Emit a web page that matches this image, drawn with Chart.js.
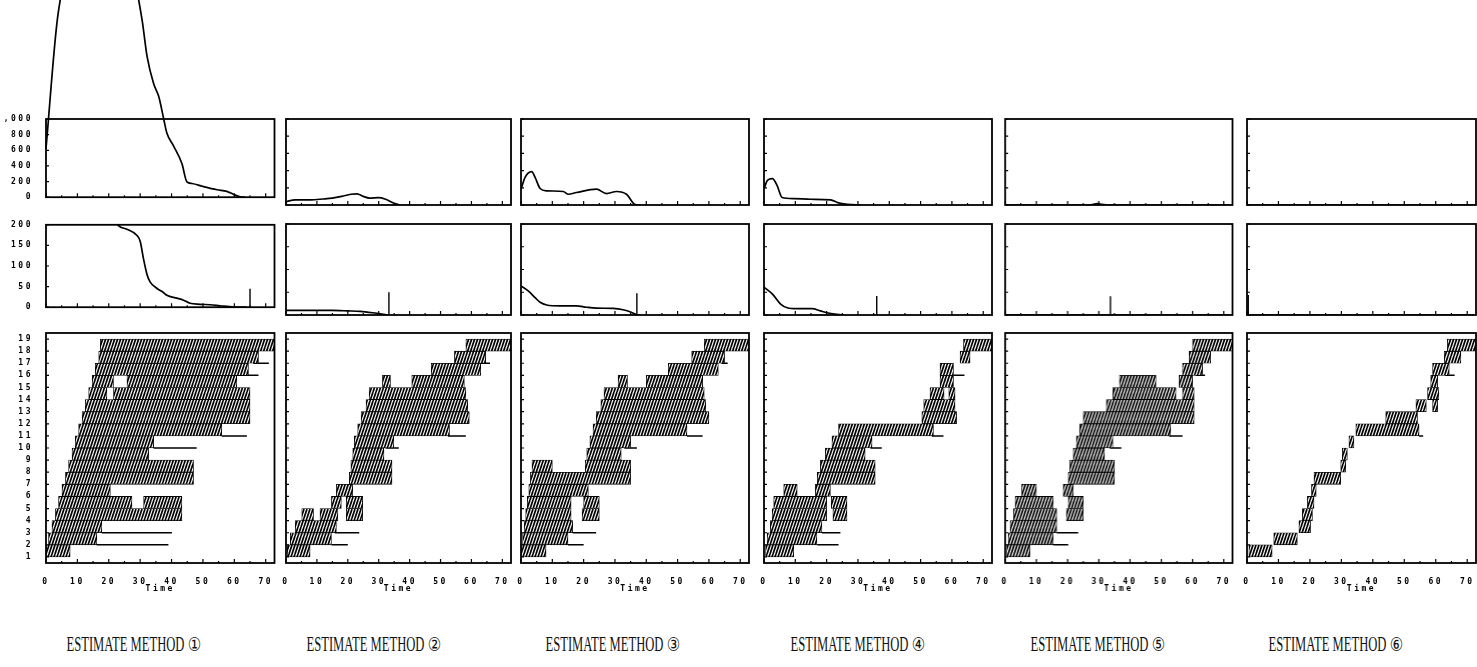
<!DOCTYPE html>
<html>
<head>
<meta charset="utf-8">
<script src="https://cdn.jsdelivr.net/npm/chart.js@4/dist/chart.umd.min.js"></script>
<style>
  html, body { margin: 0; padding: 0; background: #fff; }
  body { width: 1477px; height: 667px; position: relative; overflow: hidden; }
  .box { position: absolute; }
  .method { position: absolute; top: 632px; width: 300px; margin-left: -150px; text-align: center;
            font-family: 'Liberation Serif', 'DejaVu Serif', serif; font-size: 21px; color: #111;
            white-space: nowrap; transform: scaleX(.6); }
  .method .mk { display: inline-block; transform: scaleX(1.3); margin-left: 8px;
                font-family: 'DejaVu Sans', 'Noto Sans CJK JP', sans-serif; font-size: 19px; }
</style>
</head>
<body>
<script>
// ---- data -------------------------------------------------------------
const methods = ['ESTIMATE METHOD ①', 'ESTIMATE METHOD ②', 'ESTIMATE METHOD ③',
                 'ESTIMATE METHOD ④', 'ESTIMATE METHOD ⑤', 'ESTIMATE METHOD ⑥'];

// upper panels (0 - 1000)
const top1X = [0, 3.7, 8, 15, 22, 28, 30.6, 32.2, 34.3, 35.9, 37.5, 38.5, 40.6, 43.3, 44.9, 46.5, 50.2, 54.5, 57.6, 59.8, 61.9, 63.4];
const top1Y = [620, 2300, 3000, 3300, 3200, 2800, 2270, 1800, 1450, 1290, 1000, 820, 660, 430, 195, 175, 135, 95, 75, 35, 5, 0];
const top2X = [0, 3, 8, 12, 15, 18, 21, 23, 25, 27, 30, 32, 35, 37];
const top2Y = [40, 60, 60, 70, 80, 100, 125, 130, 100, 80, 85, 70, 20, 0];
const top3X = [0, 1.3, 3.4, 4.5, 6.1, 8.2, 13.5, 15.1, 17.7, 24.1, 27.3, 30.5, 33.7, 36.3, 38];
const top3Y = [184, 322, 388, 322, 192, 165, 157, 125, 145, 184, 133, 157, 125, 8, 0];
const top4X = [0, 1.1, 2.7, 4.2, 5.8, 9.6, 14.9, 21.3, 23.5, 26.6, 30.9];
const top4Y = [187, 286, 306, 226, 87, 75, 67, 60, 28, 8, 0];
const top5X = [0, 27, 29.5, 31, 33, 72];
const top5Y = [0, 0, 15, 8, 0, 0];
const top6X = [0, 72];
const top6Y = [0, 0];

// middle panels (0 - 200)
const mid1X = [0, 10, 20, 23.1, 25.8, 29, 30, 31.1, 32.2, 33.2, 35.3, 37.5, 38.5, 41.7, 43.8, 45.9, 49.1, 52.3, 55.5, 59.8, 64];
const mid1Y = [320, 280, 235, 198, 189, 174, 160, 116, 79, 61, 46, 35, 29, 22, 17, 9.5, 7, 6, 3.5, 0.5, 0];
const mid2X = [0, 5, 10, 15, 20, 24, 28, 31, 33];
const mid2Y = [10, 10, 10, 10, 9, 8, 5, 2, 0];
const mid3X = [0, 2.3, 4.5, 6.1, 8.2, 12.4, 17.7, 20.9, 24.1, 29.4, 32.6, 35.2, 36.8, 38];
const mid3Y = [64, 53, 38, 28, 22, 20, 20, 17, 15, 14.5, 11.6, 6, 0.7, 0];
const mid4X = [0, 2.7, 5.3, 7.4, 10.6, 15.4, 18, 20.1, 23.3, 25.4];
const mid4Y = [61, 46, 24, 16, 14, 14, 9, 5, 1.5, 0];
const mid5X = [0, 72];
const mid5Y = [0, 0];
const mid6X = [0, 72];
const mid6Y = [0, 0];
const spikeX = [65, 33.3, 37, 36, 33.7, 0.4];
const spikeH = [45, 50, 48, 42, 41, 44];

// lower panels: [row, start, end]
const tasks1 = [[1, 0, 7.7], [2, 0.8, 16.2], [3, 1.9, 17.8], [4, 3, 43.3], [5, 4, 27.4], [5, 31.1, 43.3],
  [6, 5.1, 20.5], [7, 6.2, 47], [8, 7.2, 47], [9, 8.3, 32.7], [10, 9.3, 34.3], [11, 10.4, 56],
  [12, 11.5, 65], [13, 12.5, 65], [14, 13.6, 19.4], [14, 21.5, 65], [15, 14.7, 21.5], [15, 25.8, 60.8],
  [16, 15.7, 64.5], [17, 16.8, 67.7], [18, 17.3, 72.8]];
const slack1 = [[2, 16.2, 39], [3, 17.8, 40.1], [10, 34.3, 48], [11, 56, 64], [16, 59.8, 67.7], [17, 66, 71]];

const tasks2 = [[1, 0.4, 7.8], [2, 1.4, 14.7], [3, 3, 16.3], [4, 5.1, 8.9], [4, 11, 16.8], [4, 19.5, 24.8],
  [5, 14.7, 17.9], [5, 19.5, 24.8], [6, 16.3, 21.6], [7, 20.5, 34.3], [8, 21, 34.3], [9, 21.6, 31.7],
  [10, 22.1, 34.9], [11, 23.2, 52.9], [12, 24.3, 59.3], [13, 25.9, 58.8], [14, 26.9, 58.2],
  [15, 31.2, 33.8], [15, 40.7, 57.7], [16, 47, 63], [17, 54.5, 64.6], [18, 58.2, 72.8]];
const slack2 = [[2, 14.7, 20], [3, 15.8, 23.7], [10, 32.2, 36.5], [11, 52.4, 58.2], [17, 63, 66]];

const tasks3 = [[1, 0, 8], [2, 0.5, 15], [3, 1, 16.5], [4, 1.5, 16], [4, 19.5, 25], [5, 2, 16], [5, 20, 25],
  [6, 2.5, 21.5], [7, 3, 35], [8, 3.5, 10], [8, 20.5, 35], [9, 21, 32], [10, 22, 35], [11, 23, 53],
  [12, 24, 60], [13, 25.5, 59], [14, 26.5, 58.5], [15, 31, 34], [15, 40, 58], [16, 47, 63],
  [17, 54.5, 65], [18, 58.5, 72.8]];
const slack3 = [[2, 15, 20], [3, 16.5, 24], [10, 33, 37], [11, 53, 58], [17, 64, 66]];

const tasks4 = [[1, 0.5, 9.5], [2, 1, 16.9], [3, 2, 18.5], [4, 2.6, 20], [4, 22, 26.5], [5, 3.1, 20], [5, 21.5, 26.5],
  [6, 6.3, 10.6], [6, 16.4, 21.2], [7, 17, 35.5], [8, 18, 35.5], [9, 19.6, 32.3], [10, 21.7, 34.5],
  [11, 23.8, 54.1], [12, 50.4, 61.5], [13, 51, 61], [14, 53, 57.5], [14, 59, 61], [15, 56.2, 60.5],
  [16, 56.2, 60.5], [17, 62.6, 65.8], [18, 63.7, 72.8]];
const slack4 = [[2, 17, 23.8], [3, 18.5, 24.4], [10, 34, 37.6], [11, 53.6, 57.3], [16, 60.5, 64]];

const tasks5 = [[1, 0.5, 8], [2, 1, 15.4], [3, 1.6, 16.5], [4, 2.7, 16.5], [4, 19.6, 25], [5, 3.2, 15.4], [5, 20.2, 25],
  [6, 5.3, 10], [6, 18.6, 21.8], [7, 20.2, 35], [8, 20.7, 35], [9, 21.8, 31.8], [10, 22.8, 34.5],
  [11, 23.9, 53], [12, 25, 60.5], [13, 32.4, 60.5], [14, 34.5, 54.7], [14, 56.8, 60.5],
  [15, 36.6, 48.3], [15, 55.7, 60], [16, 56.8, 63.2], [17, 58.9, 65.8], [18, 60, 72.8]];
const slack5 = [[2, 15.4, 20.2], [3, 16.5, 23.4], [10, 33.5, 37.2], [11, 52.5, 56.8], [16, 61, 64]];

const tasks6 = [[1, 0.6, 8], [2, 8.5, 16], [3, 16.5, 20.2], [4, 17.6, 20.8], [5, 19.2, 21.3], [6, 20.5, 22],
  [7, 21.3, 29.8], [8, 29.8, 31.4], [9, 30.3, 31.9], [10, 32.4, 34], [11, 34.6, 54.7], [12, 44.1, 54.2],
  [13, 53.7, 57], [13, 59, 60.6], [14, 57.4, 61], [15, 58.4, 60.6], [16, 59, 64.3], [17, 62.7, 68],
  [18, 63.7, 72.8]];
const slack6 = [[11, 54.7, 56], [16, 63, 66]];

// ---- layout (pixels of the page) ---------------------------------------
const colLeft  = [45.5, 285.5, 521, 763.5, 1005, 1246.5];
const colRight = [274, 510.5, 749, 991.5, 1231.5, 1475.5];
const labelCenter = [133, 373, 612, 857, 1097, 1335];
const AXIS_W = 42;

Chart.defaults.font.family = "'DejaVu Sans Mono', monospace";
Chart.defaults.font.size = 8;
Chart.defaults.font.weight = 'bold';
Chart.defaults.color = '#000';
Chart.defaults.animation = false;
Chart.defaults.events = [];
Chart.defaults.maintainAspectRatio = false;
Chart.defaults.plugins.legend.display = false;
Chart.defaults.plugins.tooltip.enabled = false;

// dense, steep //// hatching used for the task bars
const hatch = (() => {
  const c = document.createElement('canvas');
  c.width = 3; c.height = 9;
  const g = c.getContext('2d');
  g.fillStyle = '#fff';
  g.fillRect(0, 0, 3, 9);
  g.strokeStyle = '#000';
  g.lineWidth = 1.7;
  for (const dx of [-3, 0, 3]) {
    g.beginPath(); g.moveTo(dx, 9); g.lineTo(dx + 3, 0); g.stroke();
  }
  return g.createPattern(c, 'repeat');
})();

// box round the plot with small inward ticks
const frame = {
  id: 'frame',
  beforeDraw(chart) { chart.ctx.letterSpacing = '2.5px'; },
  afterDatasetsDraw(chart) {
    const {ctx, chartArea: a, scales: {x, y}} = chart;
    ctx.save();
    ctx.strokeStyle = '#000';
    ctx.lineWidth = 1.2;
    ctx.beginPath();
    x.ticks.forEach(t => {
      const px = x.getPixelForValue(t.value);
      const len = t.value % 10 === 0 ? 4 : 2;
      ctx.moveTo(px, a.bottom); ctx.lineTo(px, a.bottom - len);
    });
    y.ticks.forEach(t => {
      const py = y.getPixelForValue(t.value);
      ctx.moveTo(a.left, py); ctx.lineTo(a.left + 3, py);
    });
    ctx.stroke();
    ctx.lineWidth = 1.8;
    ctx.strokeRect(a.left, a.top, a.right - a.left, a.bottom - a.top);
    ctx.restore();
  }
};
Chart.register(frame);

function addCanvas(col, top, height) {
  const d = document.createElement('div');
  d.className = 'box';
  const left = colLeft[col] - AXIS_W;
  d.style.cssText = `left:${left}px;top:${top}px;width:${colRight[col] - left + 3}px;height:${height}px`;
  const c = document.createElement('canvas');
  d.appendChild(c);
  document.body.appendChild(d);
  return c;
}

function xScale(labels) {
  return {
    type: 'linear', min: 0, max: 72.8,
    grid: {display: false}, border: {display: false},
    ticks: {stepSize: 5, includeBounds: false, display: labels, padding: 6, maxRotation: 0, autoSkip: false,
            callback: v => (v % 10 === 0 ? String(v) : '')},
    title: {display: labels, text: 'Time', padding: {top: 0, bottom: 6}},
    afterFit: s => { s.height = labels ? 37 : 2; }
  };
}

function yScale(min, max, step, labels) {
  return {
    type: 'linear', min, max,
    grid: {display: false}, border: {display: false},
    ticks: {stepSize: step, display: labels, padding: 5, autoSkip: false},
    afterFit: s => { s.width = AXIS_W; }
  };
}

const pts = (xs, ys) => xs.map((x, i) => ({x, y: ys[i]}));

function curveChart(col, top, height, padTop, xs, ys, yMax, step, spike, free) {
  const datasets = [{
    type: 'line', data: pts(xs, ys), borderColor: '#000', borderWidth: 1.7,
    pointRadius: 0, cubicInterpolationMode: 'monotone', clip: free ? false : undefined
  }];
  if (spike) {
    datasets.push({type: 'line', data: [{x: spikeX[col], y: 0}, {x: spikeX[col], y: spikeH[col]}],
                   borderColor: '#000', borderWidth: 1.4, pointRadius: 0});
  }
  new Chart(addCanvas(col, top, height), {
    data: {datasets},
    options: {
      layout: {padding: {top: padTop, right: 3}},
      scales: {x: xScale(false), y: yScale(0, yMax, step, col === 0)}
    }
  });
}

function ganttChart(col, tasks, slack) {
  const slackPts = slack.flatMap(([r, s, e]) => [{x: s, y: r}, {x: e, y: r}, {x: e, y: null}]);
  new Chart(addCanvas(col, 320, 280), {
    data: {
      datasets: [
        {type: 'bar', indexAxis: 'y', grouped: false,
         data: tasks.map(([r, s, e]) => ({x: [s, e], y: r + 0.5})),
         backgroundColor: hatch, borderColor: '#000', borderWidth: 0.8, borderSkipped: false,
         barPercentage: 1, categoryPercentage: 1},
        {type: 'line', indexAxis: 'x', data: slackPts, borderColor: '#000', borderWidth: 1.5,
         pointRadius: 0, spanGaps: false}
      ]
    },
    options: {
      layout: {padding: {top: 13, right: 3}},
      scales: {x: xScale(true), y: yScale(1, 19, 1, col === 0)}
    }
  });
}

const tops = [[top1X, top1Y], [top2X, top2Y], [top3X, top3Y], [top4X, top4Y], [top5X, top5Y], [top6X, top6Y]];
const mids = [[mid1X, mid1Y], [mid2X, mid2Y], [mid3X, mid3Y], [mid4X, mid4Y], [mid5X, mid5Y], [mid6X, mid6Y]];
const tasks = [tasks1, tasks2, tasks3, tasks4, tasks5, tasks6];
const slacks = [slack1, slack2, slack3, slack4, slack5, slack6];

for (let c = 0; c < 6; c++) {
  curveChart(c, 0, 207, 119, tops[c][0], tops[c][1], 1000, 200, false, c === 0);
  curveChart(c, 215, 102, 9, mids[c][0], mids[c][1], 200, 50, true, false);
  ganttChart(c, tasks[c], slacks[c]);

  const m = methods[c];
  const cut = m.lastIndexOf(' ');
  const d = document.createElement('div');
  d.className = 'method';
  d.style.left = labelCenter[c] + 'px';
  const nm = document.createElement('span');
  nm.textContent = m.slice(0, cut);
  const mk = document.createElement('span');
  mk.className = 'mk';
  mk.textContent = m.slice(cut + 1);
  d.append(nm, mk);
  document.body.appendChild(d);
}
</script>
</body>
</html>
